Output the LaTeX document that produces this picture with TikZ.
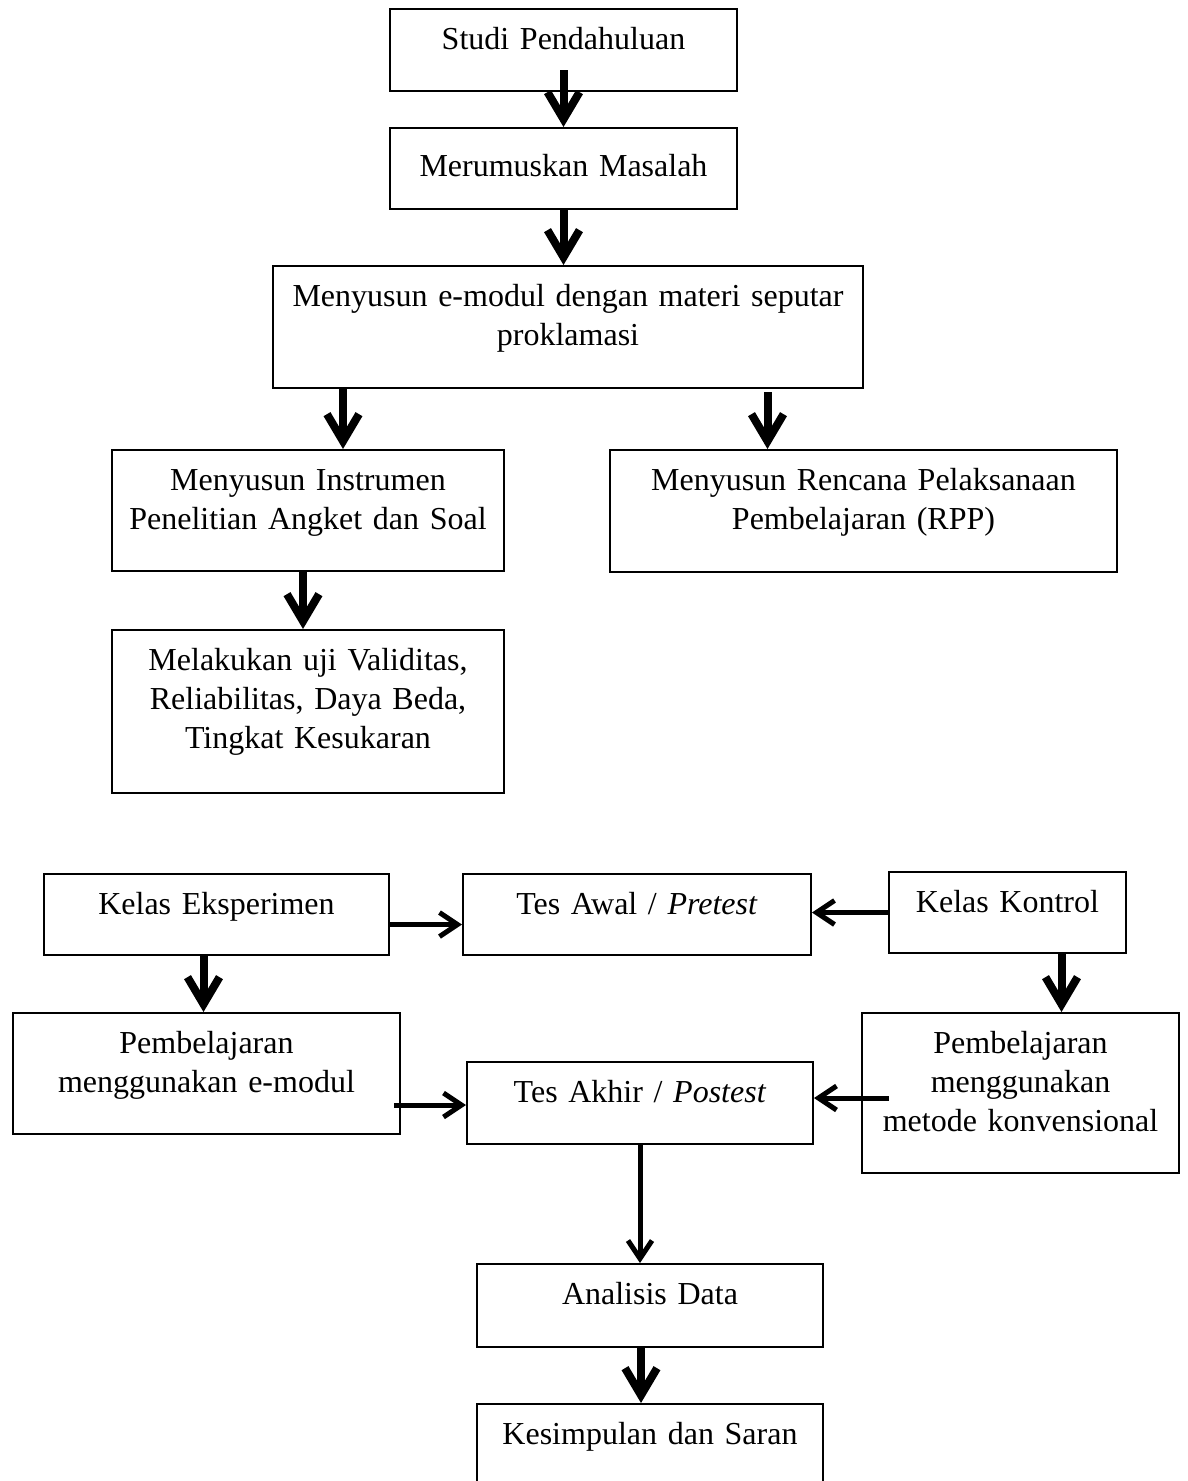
\documentclass[tikz,border=0pt]{standalone}
\usepackage{fontspec}
\setmainfont{Liberation Serif}
\usepackage{tikz}
\usetikzlibrary{arrows.meta, calc, positioning}

\begin{document}
\begin{tikzpicture}[
    x=1pt, y=-1pt,
    box/.style={draw, line width=2pt, anchor=north west, inner sep=0pt, align=center, text height=40pt, font=\fontsize{32pt}{39pt}\selectfont},
    bigarrow/.style={-{Straight Barb[length=27pt, width=32pt]}, line width=8pt},
    arrow/.style={-{Straight Barb[length=18pt, width=24pt]}, line width=5pt}
]
    \useasboundingbox (0,0) rectangle (1187,1481);

    % Tahap persiapan
    \node[box, text width=347pt, text depth=42pt] (studi) at (389,8) {Studi Pendahuluan};
    \node[box, text width=347pt, text height=48pt, text depth=33pt] (rumus) at (389,127) {Merumuskan Masalah};
    \node[box, text width=590pt, text depth=82pt] (emodul) at (272,265) {Menyusun e-modul dengan materi seputar\\ proklamasi};
    \node[box, text width=392pt, text depth=81pt] (instr) at (111,449) {Menyusun Instrumen\\ Penelitian Angket dan Soal};
    \node[box, text width=507pt, text depth=82pt] (rpp) at (609,449) {Menyusun Rencana Pelaksanaan\\ Pembelajaran (RPP)};
    \node[box, text width=392pt, text depth=123pt] (uji) at (111,629) {Melakukan uji Validitas,\\ Reliabilitas, Daya Beda,\\ Tingkat Kesukaran};

    % Tahap pelaksanaan
    \node[box, text width=345pt, text depth=41pt] (eksp) at (43,873) {Kelas Eksperimen};
    \node[box, text width=348pt, text depth=41pt] (pre) at (462,873) {Tes Awal / \textit{Pretest}};
    \node[box, text width=237pt, text depth=41pt] (kontrol) at (888,871) {Kelas Kontrol};
    \node[box, text width=387pt, text depth=81pt] (pemeks) at (12,1012) {Pembelajaran\\ menggunakan e-modul};
    \node[box, text width=346pt, text depth=42pt] (post) at (466,1061) {Tes Akhir / \textit{Postest}};
    \node[box, text width=317pt, text depth=120pt] (pemkon) at (861,1012) {Pembelajaran\\ menggunakan\\ metode konvensional};

    % Tahap akhir
    \node[box, text width=346pt, text depth=43pt] (analisis) at (476,1263) {Analisis Data};
    \node[box, text width=346pt, text depth=70pt] (simpul) at (476,1403) {Kesimpulan dan Saran};

    % Alur
    \draw[bigarrow] ($(studi.south)+(0,-22)$) -- (rumus.north);
    \draw[bigarrow] (rumus.south) -- (rumus.south |- emodul.north);
    \draw[bigarrow] ($(emodul.south -| instr.north)+(35,0)$) -- ($(instr.north)+(35,0)$);
    \draw[bigarrow] ($(emodul.south -| rpp.north)+(-96,3)$) -- ($(rpp.north)+(-96,0)$);
    \draw[bigarrow] ($(instr.south)+(-5,0)$) -- ($(uji.north)+(-5,0)$);

    \draw[arrow] ($(eksp.east)+(0,10)$) -- ($(pre.west)+(0,10)$);
    \draw[arrow] (kontrol.west) -- (kontrol.west -| pre.east);
    \draw[bigarrow] ($(eksp.south)+(-13,0)$) -- ($(eksp.south |- pemeks.north)+(-13,0)$);
    \draw[bigarrow] ($(kontrol.south)+(54,0)$) -- ($(kontrol.south |- pemkon.north)+(54,0)$);
    \draw[arrow] ($(pemeks.east |- post.west)+(-7,2)$) -- ($(post.west)+(0,2)$);
    \draw[arrow] ($(pemkon.west |- post.east)+(28,-5)$) -- ($(post.east)+(0,-5)$);

    \draw[arrow] (post.south) -- (post.south |- analisis.north);
    \draw[bigarrow] ($(analisis.south)+(-9,0)$) -- ($(analisis.south |- simpul.north)+(-9,0)$);
\end{tikzpicture}
\end{document}
